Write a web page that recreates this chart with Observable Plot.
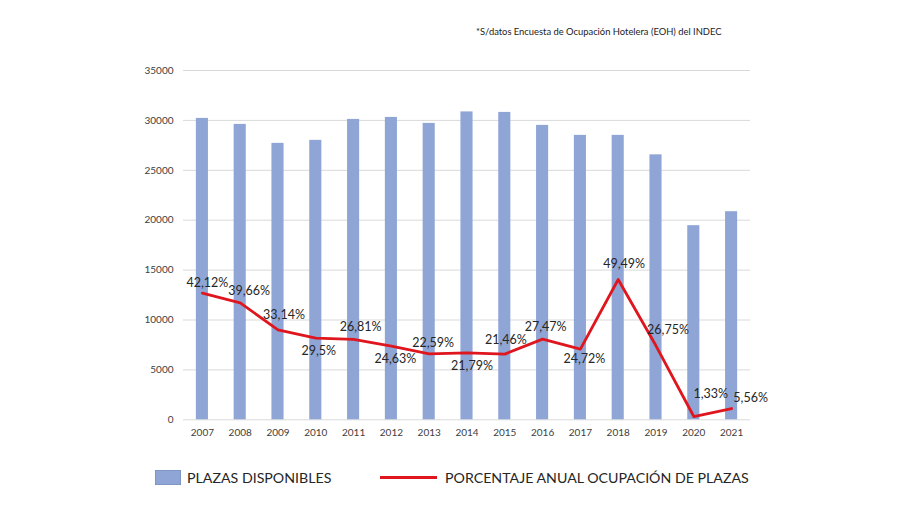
<!DOCTYPE html>
<html>
<head>
<meta charset="utf-8">
<script src="https://cdn.jsdelivr.net/npm/d3@7"></script>
<script src="https://cdn.jsdelivr.net/npm/@observablehq/plot@0.6"></script>
<style>
  html, body { margin: 0; padding: 0; background: #fff; }
  #wrap { position: relative; width: 900px; height: 506px; font-family: Lato, "Open Sans", sans-serif; }
  #note { position: absolute; left: 476px; top: 26px; font-size: 9.4px; color: #222; white-space: nowrap; }
  #chart { position: absolute; left: 0; top: 0; }
  #legend { position: absolute; left: 0; top: 468px; width: 900px; height: 20px; font-size: 14.2px; color: #262626; }
  .sw { position: absolute; top: 2px; width: 26px; height: 15px; background: #8EA5D5; border: 0.5px solid #7f95c4; box-sizing: border-box; }
  .ln { position: absolute; top: 8px; width: 57px; height: 3px; background: #DF161E; }
  .lt { position: absolute; top: 0px; white-space: nowrap; line-height: 19px; }
</style>
</head>
<body>
<div id="wrap">
  <div id="chart"></div>
  <div id="note">*S/datos Encuesta de Ocupación Hotelera (EOH) del INDEC</div>
  <div id="legend">
    <div class="sw" style="left:155px"></div>
    <div class="lt" style="left:187px">PLAZAS DISPONIBLES</div>
    <div class="ln" style="left:380px"></div>
    <div class="lt" style="left:445px">PORCENTAJE ANUAL OCUPACIÓN DE PLAZAS</div>
  </div>
</div>
<script>
const years = ["2007","2008","2009","2010","2011","2012","2013","2014","2015","2016","2017","2018","2019","2020","2021"];
const plazas = [30200, 29600, 27700, 28000, 30100, 30300, 29700, 30850, 30800, 29500, 28500, 28500, 26550, 19450, 20850];
// percentage labels as printed
const ocupacion = [42.12, 39.66, 33.14, 29.5, 26.81, 24.63, 22.59, 21.79, 21.46, 27.47, 24.72, 49.49, 26.75, 1.33, 5.56];
// line heights as drawn, read on the hidden secondary axis (0–120 %)
const ocupacionTrazo = [43.5, 40.2, 30.9, 28.05, 27.6, 25.3, 22.66, 23.0, 22.56, 27.7, 24.27, 48.2, 25.42, 1.13, 3.87];
const yTicks = [0, 5000, 10000, 15000, 20000, 25000, 30000, 35000];

// secondary (hidden) axis 0–120 % mapped onto the primary 0–35000 range
const secMax = 120, primMax = 35000;
const toPrim = p => p * primMax / secMax;

// label placement offsets (dx, dy) in pixels, as in the reference
const labelDx = [5, 9, 6, 3, 7, 4, 4, 5, 1, 3, 4, 6, 12, 17, 19];
const labelDy = [-10, -12, -15, 13, -12, 13, -11, 13, -14, -12, 10, -15, -16, -23, -11];

const data = years.map((y, i) => ({
  year: y, plazas: plazas[i], pct: ocupacionTrazo[i],
  label: String(ocupacion[i]).replace(".", ",") + "%",
  dx: labelDx[i], dy: labelDy[i]
}));

const chart = Plot.plot({
  width: 900,
  height: 450,
  marginTop: 70,
  marginBottom: 30.7,
  marginLeft: 183,
  marginRight: 150,
  style: { fontFamily: "Lato, 'Open Sans', sans-serif", color: "#404040", background: "transparent" },
  x: { domain: years, paddingInner: 0.68, paddingOuter: 0.34, round: false, label: null, tickSize: 0, tickPadding: 9 },
  y: { domain: [0, 35000], ticks: yTicks, label: null, tickSize: 0, tickPadding: 10, tickFormat: d => String(d) },
  marks: [
    Plot.gridY(yTicks, { stroke: "#d9d9d9", strokeOpacity: 1, strokeWidth: 1 }),
    Plot.axisY(yTicks, { tickSize: 0, tickPadding: 10, fontSize: 10, label: null, tickFormat: d => String(d) }),
    Plot.axisX({ tickSize: 0, tickPadding: 9, fontSize: 10, label: null }),
    Plot.barY(data, { x: "year", y: "plazas", fill: "#8EA5D5" }),
    Plot.line(data, { x: "year", y: d => toPrim(d.pct), stroke: "#DF161E", strokeWidth: 2.8, curve: "linear" }),
    ...data.map(d => Plot.text([d], { x: "year", y: e => toPrim(e.pct), text: "label", dx: d.dx, dy: d.dy, fontSize: 12.5, fill: "#262626" }))
  ]
});
document.getElementById("chart").appendChild(chart);
</script>
</body>
</html>
